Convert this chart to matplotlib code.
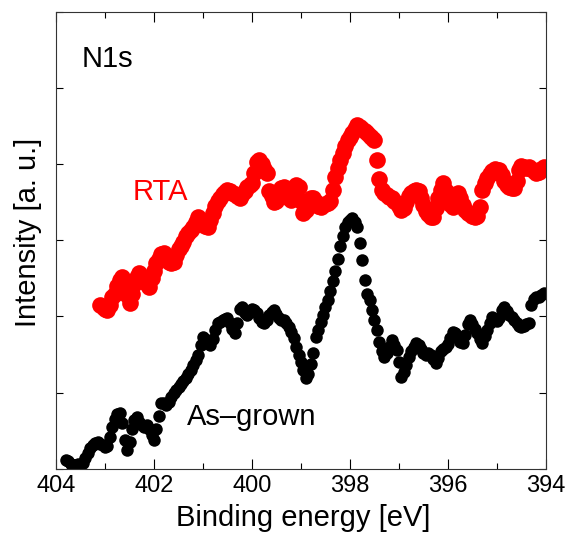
import numpy as np
import matplotlib
matplotlib.use("Agg")
import matplotlib.pyplot as plt
from matplotlib.ticker import MultipleLocator

plt.rcParams['font.family'] = ['Liberation Sans', 'DejaVu Sans']

# As-grown spectrum, 403.80 eV down to 394.05 eV, step 0.05 eV
asgrown_start = 403.80
asgrown = [
    0.12, 0.10, 0.07, 0.05, 0.05, 0.06, 0.07, 0.08, 0.14, 0.21, 0.27, 0.31, 0.34, 0.35, 0.33, 0.31,
    0.29, 0.30, 0.42, 0.55, 0.65, 0.72, 0.73, 0.60, 0.38, 0.25, 0.35, 0.52, 0.64, 0.68, 0.62, 0.58, 0.55, 0.58, 0.52, 0.45,
    0.38, 0.52, 0.70, 0.86, 0.86, 0.84, 0.88, 0.95, 1.00, 1.04, 1.08, 1.12, 1.15, 1.19, 1.24, 1.30, 1.36, 1.43, 1.50, 1.62,
    1.73, 1.70, 1.66, 1.63, 1.70, 1.82, 1.91, 1.93, 1.96, 1.97, 1.98, 1.92, 1.84, 1.78, 1.92, 2.10, 2.12, 2.05, 2.02, 2.06,
    2.10, 2.08, 2.04, 1.98, 1.93, 1.91, 1.96, 2.02, 2.06, 2.08, 2.03, 1.98, 1.95, 1.96, 1.92, 1.86, 1.80, 1.72, 1.60, 1.50,
    1.40, 1.30, 1.19, 1.25, 1.38, 1.52, 1.73, 1.82, 1.93, 2.02, 2.12, 2.22, 2.33, 2.46, 2.60, 2.76, 2.92, 3.06, 3.18, 3.24,
    3.27, 3.29, 3.24, 3.17, 2.96, 2.74, 2.48, 2.30, 2.21, 2.08, 1.95, 1.82, 1.66, 1.55, 1.47, 1.52, 1.60, 1.69, 1.62, 1.56,
    1.40, 1.21, 1.27, 1.37, 1.47, 1.55, 1.60, 1.65, 1.63, 1.57, 1.52, 1.50, 1.52, 1.49, 1.44, 1.39, 1.45, 1.55, 1.58, 1.60,
    1.64, 1.72, 1.80, 1.78, 1.72, 1.67, 1.65, 1.76, 1.90, 1.95, 1.90, 1.84, 1.78, 1.70, 1.65, 1.74, 1.82, 1.92, 1.99, 1.97,
    1.94, 1.98, 2.08, 2.12, 2.07, 2.02, 1.99, 1.96, 1.92, 1.88, 1.86, 1.88, 1.90, 1.91, 2.15, 2.23, 2.25, 2.26, 2.28, 2.31,
]

# RTA spectrum, 403.10 eV down to 394.05 eV, step 0.05 eV
rta_start = 403.10
rta = [
    2.15, 2.12,
    2.10, 2.08, 2.15, 2.25, 2.30, 2.40, 2.48, 2.52, 2.42, 2.28, 2.18, 2.30, 2.42, 2.52, 2.57, 2.52, 2.46, 2.42, 2.39, 2.50,
    2.60, 2.70, 2.76, 2.82, 2.83, 2.78, 2.72, 2.70, 2.72, 2.80, 2.88, 2.93, 2.98, 3.05, 3.10, 3.14, 3.18, 3.24, 3.30, 3.26,
    3.22, 3.19, 3.17, 3.26, 3.36, 3.45, 3.52, 3.56, 3.60, 3.63, 3.66, 3.64, 3.62, 3.60, 3.58, 3.56, 3.60, 3.65, 3.70, 3.72,
    3.75, 3.88, 4.02, 4.05, 4.00, 3.94, 3.88, 3.65, 3.58, 3.50, 3.52, 3.60, 3.68, 3.70, 3.62, 3.55, 3.53, 3.62, 3.72, 3.70,
    3.52, 3.36, 3.40, 3.48, 3.55, 3.56, 3.50, 3.45, 3.43, 3.46, 3.48, 3.49, 3.52, 3.66, 3.83, 3.95, 4.05, 4.14, 4.23, 4.31,
    4.36, 4.40, 4.46, 4.51, 4.49, 4.46, 4.43, 4.40, 4.37, 4.34, 4.31, 4.05, 3.80, 3.66, 3.62, 3.59, 3.57, 3.55, 3.52, 3.49,
    3.45, 3.40, 3.42, 3.50, 3.58, 3.62, 3.64, 3.66, 3.64, 3.55, 3.46, 3.38, 3.34, 3.31, 3.30, 3.42, 3.55, 3.66, 3.75, 3.65,
    3.55, 3.47, 3.43, 3.52, 3.62, 3.55, 3.46, 3.40, 3.36, 3.34, 3.32, 3.30, 3.32, 3.43, 3.66, 3.75, 3.82, 3.87, 3.91, 3.93,
    3.92, 3.92, 3.86, 3.78, 3.72, 3.70, 3.69, 3.68, 3.78, 3.92, 3.97, 3.96, 3.95, 3.96, 3.94, 3.91, 3.88, 3.90, 3.93, 3.96,
]
step = 0.05

x_asgrown = asgrown_start - step * np.arange(len(asgrown))
x_rta = rta_start - step * np.arange(len(rta))

fig = plt.figure(figsize=(5.78, 5.35), dpi=100)
ax = fig.add_axes([0.0969, 0.1234, 0.8477, 0.8551])

ax.plot(x_rta, rta, 'o', color='red', markersize=12, markeredgewidth=0)
ax.plot(x_asgrown, asgrown, 'o', color='black', markersize=9, markeredgewidth=0)

ax.set_xlim(404, 394)
ax.set_ylim(0, 6)
ax.xaxis.set_major_locator(MultipleLocator(2))
ax.xaxis.set_minor_locator(MultipleLocator(1))
ax.yaxis.set_major_locator(MultipleLocator(1))
ax.set_yticklabels([])
ax.tick_params(axis='x', which='major', direction='in', top=True, length=7, width=0.8, labelsize=17, pad=4)
ax.tick_params(axis='x', which='minor', direction='in', top=True, length=4, width=0.8)
ax.tick_params(axis='y', which='major', direction='in', right=True, length=5, width=0.8)
for s in ax.spines.values():
    s.set_linewidth(0.8)
    s.set_color('#333333')

ax.set_xlabel('Binding energy [eV]', fontsize=21)
ax.xaxis.label.set_va('baseline')
ax.xaxis.set_label_coords(0.504, -0.124)
ax.set_ylabel('Intensity [a. u.]', fontsize=21)
ax.yaxis.set_label_coords(-0.028, 0.517)

ax.text(0.053, 0.879, 'N1s', transform=ax.transAxes, fontsize=21, va='baseline')
ax.text(0.157, 0.588, 'RTA', transform=ax.transAxes, fontsize=21, va='baseline', color='red')
ax.text(0.267, 0.097, 'As\u2013grown', transform=ax.transAxes, fontsize=21, va='baseline')

fig.savefig('out.png', dpi=100)
